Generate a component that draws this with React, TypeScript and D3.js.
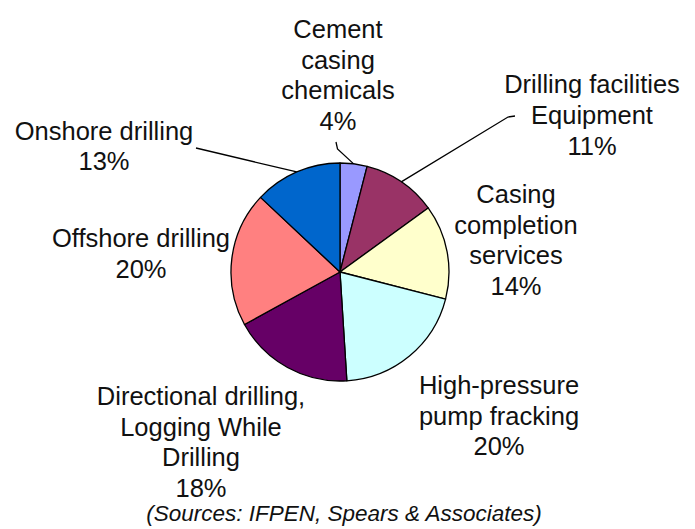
import React from "react";
import * as d3 from "d3";

const categories = [
  "Cement casing chemicals",
  "Drilling facilities Equipment",
  "Casing completion services",
  "High-pressure pump fracking",
  "Directional drilling, Logging While Drilling",
  "Offshore drilling",
  "Onshore drilling",
];
const values = [4, 11, 14, 20, 18, 20, 13];
const colors = ["#9999FF", "#993366", "#FFFFCC", "#CCFFFF", "#660066", "#FF8080", "#0066CC"];
const labelLines = [
  ["Cement", "casing", "chemicals", "4%"],
  ["Drilling facilities", "Equipment", "11%"],
  ["Casing", "completion", "services", "14%"],
  ["High-pressure", "pump fracking", "20%"],
  ["Directional drilling,", "Logging While", "Drilling", "18%"],
  ["Offshore drilling", "20%"],
  ["Onshore drilling", "13%"],
];
const source = "(Sources: IFPEN, Spears & Associates)";

// layout: label anchor (center x, first baseline y), line spacing, leader polyline (label end)
const labelPos: { x: number; y: number; dy: number; leader?: [number, number][] }[] = [
  { x: 338, y: 38, dy: 30.5, leader: [[336, 142], [337.5, 149]] },
  { x: 592, y: 93, dy: 31, leader: [[515, 116], [508, 117]] },
  { x: 516, y: 203, dy: 30.7 },
  { x: 499, y: 394, dy: 30.5 },
  { x: 201, y: 405, dy: 30.7 },
  { x: 141, y: 247, dy: 31 },
  { x: 104, y: 140, dy: 30, leader: [[196, 148]] },
];

const W = 695;
const H = 529;
const cx = 340;
const cy = 272;
const R = 109;

export default function App() {
  const pie = d3.pie<number>().sort(null).value((d) => d)(values);
  const arc = d3.arc<d3.PieArcDatum<number>>().innerRadius(0).outerRadius(R);
  const font = "'Liberation Sans', Arial, sans-serif";
  return (
    <svg width={W} height={H} viewBox={`0 0 ${W} ${H}`} style={{ position: "absolute", left: 0, top: 0, background: "#fff" }}>
      <rect width={W} height={H} fill="#fff" />
      <g transform={`translate(${cx},${cy})`}>
        {pie.map((d, i) => (
          <path key={categories[i]} d={arc(d) || ""} fill={colors[i]} stroke="#000" strokeWidth={1.3} strokeLinejoin="round" />
        ))}
      </g>
      {pie.map((d, i) => {
        const lp = labelPos[i];
        if (!lp.leader) return null;
        const mid = (d.startAngle + d.endAngle) / 2;
        const ex = cx + R * Math.sin(mid);
        const ey = cy - R * Math.cos(mid);
        const pts: [number, number][] = [...lp.leader, [ex, ey]];
        return <path key={"l" + i} d={d3.line()(pts) || ""} fill="none" stroke="#000" strokeWidth={1.3} />;
      })}
      {labelLines.map((lines, i) => {
        const lp = labelPos[i];
        return (
          <text key={"t" + i} x={lp.x} y={lp.y} textAnchor="middle" fontFamily={font} fontSize={25.5} fill="#111">
            {lines.map((ln, j) => (
              <tspan key={j} x={lp.x} y={lp.y + j * lp.dy}>
                {ln}
              </tspan>
            ))}
          </text>
        );
      })}
      <text x={344} y={521} textAnchor="middle" fontFamily={font} fontSize={22.5} fontStyle="italic" fill="#111">
        {source}
      </text>
    </svg>
  );
}
